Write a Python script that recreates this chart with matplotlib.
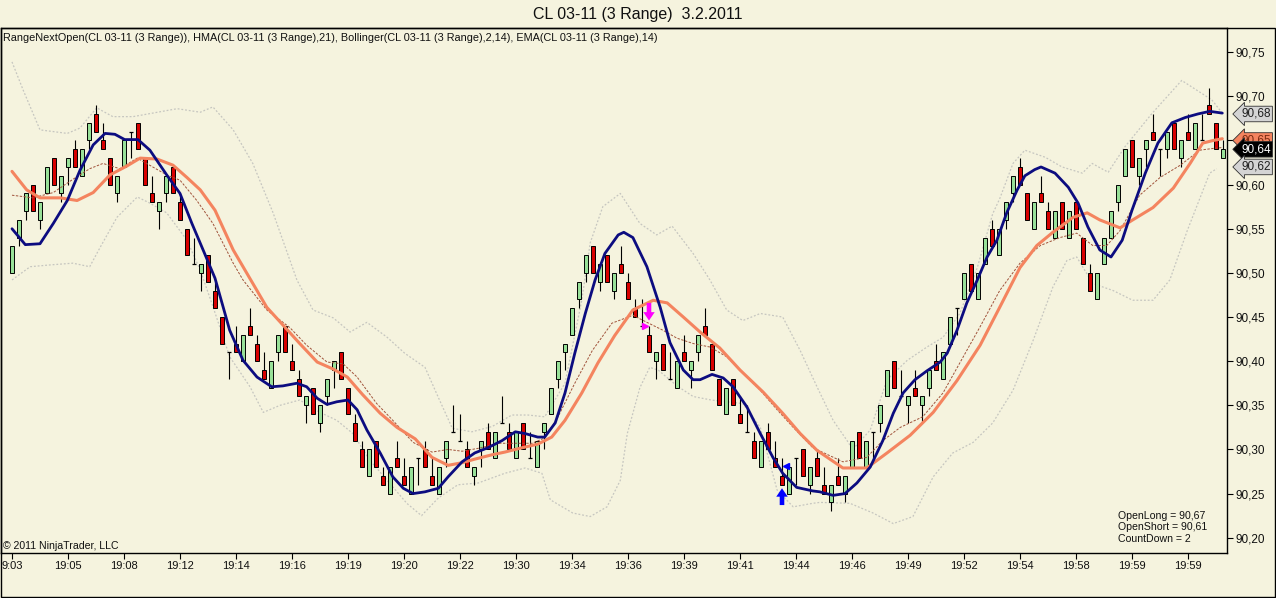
import numpy as np
import matplotlib.pyplot as plt
from matplotlib.patches import Rectangle

# ---- range bars (CL 03-11, 3 range) ----
opens = [
    90.50, 90.54, 90.57, 90.60, 90.56, 90.59, 90.63, 90.59, 90.62, 90.64,
    90.61, 90.65, 90.68, 90.65, 90.63, 90.59, 90.62, 90.66, 90.67, 90.63,
    90.59, 90.57, 90.59, 90.62, 90.58, 90.55, 90.51, 90.50, 90.52, 90.48,
    90.45, 90.41, 90.42, 90.40, 90.44, 90.42, 90.39, 90.37, 90.41, 90.44,
    90.40, 90.38, 90.35, 90.37, 90.33, 90.36, 90.39, 90.41, 90.37, 90.33,
    90.30, 90.27, 90.31, 90.27, 90.25, 90.29, 90.27, 90.25, 90.29, 90.30,
    90.27, 90.25, 90.29, 90.32, 90.31, 90.30, 90.27, 90.30, 90.32, 90.29,
    90.33, 90.32, 90.29, 90.33, 90.29, 90.28, 90.32, 90.34, 90.38, 90.41,
    90.43, 90.47, 90.50, 90.53, 90.49, 90.52, 90.48, 90.51, 90.49, 90.46,
    90.44, 90.43, 90.40, 90.42, 90.38, 90.37, 90.41, 90.39, 90.41, 90.44,
    90.42, 90.38, 90.34, 90.38, 90.34, 90.32, 90.31, 90.28, 90.32, 90.29,
    90.27, 90.25, 90.29, 90.30, 90.26, 90.29, 90.26, 90.24, 90.27, 90.25,
    90.28, 90.32, 90.28, 90.32, 90.33, 90.36, 90.40, 90.36, 90.35, 90.37,
    90.35, 90.37, 90.40, 90.38, 90.42, 90.46, 90.47, 90.51, 90.47, 90.51,
    90.55, 90.52, 90.56, 90.59, 90.62, 90.59, 90.55, 90.59, 90.57, 90.54,
    90.58, 90.54, 90.58, 90.54, 90.50, 90.47, 90.51, 90.54, 90.58, 90.61,
    90.65, 90.61, 90.64, 90.66, 90.64, 90.64, 90.67, 90.63, 90.66, 90.64,
    90.65, 90.69, 90.67, 90.63]
highs = [
    90.53, 90.56, 90.59, 90.60, 90.58, 90.62, 90.63, 90.61, 90.63, 90.65,
    90.64, 90.67, 90.69, 90.67, 90.63, 90.61, 90.65, 90.66, 90.67, 90.63,
    90.61, 90.58, 90.61, 90.62, 90.59, 90.55, 90.54, 90.51, 90.52, 90.49,
    90.45, 90.41, 90.44, 90.43, 90.46, 90.43, 90.41, 90.40, 90.43, 90.44,
    90.42, 90.39, 90.36, 90.37, 90.35, 90.38, 90.40, 90.41, 90.37, 90.34,
    90.31, 90.30, 90.31, 90.28, 90.28, 90.31, 90.29, 90.28, 90.29, 90.31,
    90.29, 90.28, 90.31, 90.35, 90.34, 90.31, 90.28, 90.31, 90.33, 90.32,
    90.36, 90.33, 90.32, 90.33, 90.32, 90.31, 90.33, 90.37, 90.40, 90.42,
    90.46, 90.49, 90.52, 90.53, 90.51, 90.52, 90.50, 90.53, 90.50, 90.47,
    90.47, 90.44, 90.41, 90.42, 90.41, 90.40, 90.43, 90.40, 90.43, 90.46,
    90.42, 90.38, 90.37, 90.38, 90.36, 90.35, 90.32, 90.31, 90.33, 90.31,
    90.29, 90.28, 90.29, 90.30, 90.28, 90.30, 90.28, 90.26, 90.29, 90.27,
    90.31, 90.32, 90.31, 90.32, 90.35, 90.39, 90.40, 90.39, 90.36, 90.39,
    90.36, 90.39, 90.42, 90.41, 90.45, 90.46, 90.50, 90.51, 90.50, 90.54,
    90.56, 90.55, 90.58, 90.61, 90.63, 90.59, 90.58, 90.61, 90.58, 90.57,
    90.58, 90.57, 90.58, 90.54, 90.51, 90.50, 90.54, 90.57, 90.60, 90.64,
    90.65, 90.63, 90.65, 90.68, 90.64, 90.66, 90.67, 90.65, 90.68, 90.67,
    90.68, 90.71, 90.67, 90.65]
lows = [
    90.50, 90.53, 90.56, 90.57, 90.55, 90.59, 90.60, 90.58, 90.60, 90.62,
    90.61, 90.64, 90.66, 90.64, 90.60, 90.58, 90.62, 90.63, 90.64, 90.60,
    90.58, 90.55, 90.58, 90.59, 90.56, 90.52, 90.51, 90.48, 90.49, 90.46,
    90.42, 90.38, 90.41, 90.40, 90.43, 90.40, 90.38, 90.37, 90.40, 90.41,
    90.39, 90.36, 90.33, 90.34, 90.32, 90.35, 90.37, 90.38, 90.34, 90.31,
    90.28, 90.27, 90.28, 90.26, 90.25, 90.28, 90.26, 90.25, 90.26, 90.28,
    90.26, 90.25, 90.28, 90.32, 90.31, 90.28, 90.26, 90.28, 90.30, 90.29,
    90.33, 90.30, 90.29, 90.30, 90.29, 90.28, 90.30, 90.34, 90.37, 90.39,
    90.43, 90.46, 90.49, 90.50, 90.48, 90.49, 90.47, 90.50, 90.47, 90.45,
    90.44, 90.41, 90.38, 90.39, 90.38, 90.37, 90.40, 90.37, 90.40, 90.43,
    90.39, 90.35, 90.34, 90.35, 90.33, 90.32, 90.29, 90.28, 90.30, 90.28,
    90.26, 90.25, 90.26, 90.27, 90.25, 90.27, 90.25, 90.23, 90.26, 90.24,
    90.28, 90.29, 90.28, 90.29, 90.32, 90.36, 90.37, 90.36, 90.33, 90.36,
    90.33, 90.36, 90.39, 90.38, 90.42, 90.43, 90.47, 90.48, 90.47, 90.51,
    90.53, 90.52, 90.55, 90.58, 90.60, 90.56, 90.55, 90.58, 90.55, 90.54,
    90.55, 90.54, 90.55, 90.51, 90.48, 90.47, 90.51, 90.54, 90.57, 90.61,
    90.62, 90.60, 90.62, 90.65, 90.61, 90.63, 90.64, 90.62, 90.65, 90.64,
    90.65, 90.68, 90.64, 90.63]
closes = [
    90.53, 90.56, 90.59, 90.57, 90.58, 90.62, 90.60, 90.61, 90.63, 90.62,
    90.64, 90.67, 90.66, 90.64, 90.60, 90.61, 90.65, 90.66, 90.64, 90.60,
    90.58, 90.58, 90.61, 90.59, 90.56, 90.52, 90.51, 90.51, 90.49, 90.46,
    90.42, 90.41, 90.41, 90.43, 90.43, 90.40, 90.38, 90.40, 90.43, 90.41,
    90.39, 90.36, 90.36, 90.34, 90.35, 90.38, 90.40, 90.38, 90.34, 90.31,
    90.28, 90.30, 90.28, 90.26, 90.28, 90.28, 90.26, 90.28, 90.29, 90.28,
    90.26, 90.28, 90.31, 90.32, 90.31, 90.28, 90.28, 90.31, 90.30, 90.32,
    90.33, 90.30, 90.32, 90.30, 90.29, 90.31, 90.33, 90.37, 90.40, 90.42,
    90.46, 90.49, 90.52, 90.50, 90.51, 90.49, 90.50, 90.50, 90.47, 90.45,
    90.44, 90.41, 90.41, 90.39, 90.38, 90.40, 90.40, 90.40, 90.43, 90.43,
    90.39, 90.35, 90.37, 90.35, 90.33, 90.32, 90.29, 90.31, 90.30, 90.28,
    90.26, 90.28, 90.29, 90.27, 90.28, 90.27, 90.25, 90.26, 90.26, 90.27,
    90.31, 90.29, 90.31, 90.32, 90.35, 90.39, 90.37, 90.36, 90.36, 90.36,
    90.36, 90.39, 90.39, 90.41, 90.45, 90.46, 90.50, 90.48, 90.50, 90.54,
    90.53, 90.55, 90.58, 90.61, 90.60, 90.56, 90.58, 90.58, 90.55, 90.57,
    90.55, 90.57, 90.55, 90.51, 90.48, 90.50, 90.54, 90.57, 90.60, 90.64,
    90.62, 90.63, 90.65, 90.65, 90.64, 90.66, 90.64, 90.65, 90.65, 90.67,
    90.65, 90.68, 90.64, 90.64]

# x axis labels, one every 8 bars
time_labels = ['9:03', '19:05', '19:08', '19:12', '19:14', '19:16', '19:19', '19:20',
               '19:22', '19:30', '19:34', '19:36', '19:39', '19:41', '19:44', '19:46',
               '19:49', '19:52', '19:54', '19:58', '19:59', '19:59']

# ---- indicator lines (bar position, price) ----
hma_pos = [0, 1.9, 4, 5.9, 7.9, 9.7, 11.6, 13.3, 14.7, 16.1, 18, 19.7, 22.1, 24, 25.7,
           27.3, 29, 31.1, 33, 35, 37.1, 38.7, 40.7, 42.1, 43.6, 45, 46.4, 48, 49.3,
           50.7, 52.6, 54.4, 55.9, 57.3, 59, 60.9, 62.3, 64.3, 66.1, 68, 70, 71.9,
           73.3, 75.1, 76.1, 77.6, 79, 80.4, 81.9, 83.3, 84.7, 86.6, 87.4, 88.7, 90.7,
           92.6, 94, 95.9, 97.3, 98.3, 100, 101.6, 103, 105, 106.9, 108.7, 110.1,
           112.1, 114.4, 115.4, 117.3, 119, 120.7, 122.6, 124.4, 125.9, 127.3, 129,
           130.7, 132.6, 133.6, 135, 136.4, 137.9, 139.3, 140.7, 142.1, 143.6, 144.7,
           146.1, 147, 149, 150.9, 152.3, 153.7, 155.4, 157, 158.6, 160, 161.9, 163.7,
           165.7, 167.6, 169.4, 171.1, 172.9]
hma_val = [90.550, 90.532, 90.533, 90.556, 90.582, 90.616, 90.645, 90.658, 90.657,
           90.651, 90.651, 90.639, 90.611, 90.590, 90.556, 90.526, 90.494, 90.435,
           90.401, 90.382, 90.371, 90.372, 90.375, 90.371, 90.358, 90.351, 90.354,
           90.356, 90.345, 90.322, 90.296, 90.269, 90.256, 90.250, 90.252, 90.256,
           90.269, 90.286, 90.296, 90.302, 90.310, 90.320, 90.318, 90.314, 90.314,
           90.330, 90.364, 90.409, 90.454, 90.492, 90.522, 90.543, 90.546, 90.540,
           90.507, 90.461, 90.421, 90.390, 90.379, 90.379, 90.385, 90.381, 90.371,
           90.348, 90.318, 90.291, 90.273, 90.257, 90.253, 90.252, 90.248, 90.250,
           90.262, 90.280, 90.310, 90.341, 90.364, 90.379, 90.389, 90.399, 90.409,
           90.435, 90.466, 90.492, 90.518, 90.537, 90.568, 90.594, 90.610, 90.617,
           90.620, 90.613, 90.597, 90.579, 90.552, 90.526, 90.518, 90.537, 90.571,
           90.613, 90.647, 90.670, 90.676, 90.680, 90.683, 90.681]

ema_pos = [0, 2.1, 4, 6.9, 9.3, 11.6, 14, 16.4, 18.3, 20.7, 23, 25, 26.9, 29, 31.6,
           36.4, 38.7, 41.1, 43.6, 45.9, 47.9, 50.1, 52.6, 55, 57.6, 60, 62.3, 64.3,
           66.1, 68.6, 70.4, 72.9, 75.1, 77.1, 79, 81.4, 83.7, 86.1, 88.7, 91.6, 93.6,
           95.9, 98.3, 101.1, 104, 107.3, 110.1, 112.6, 115, 118.7, 122.1, 125, 128.3,
           131.6, 135, 138.3, 141.1, 144, 146.4, 148.7, 151.6, 153.6, 155.4, 158.3,
           160.1, 163, 165.9, 168.3, 170.1, 171.6, 172.9]
ema_val = [90.615, 90.594, 90.585, 90.585, 90.582, 90.591, 90.611, 90.621, 90.630,
           90.629, 90.622, 90.608, 90.594, 90.571, 90.526, 90.461, 90.441, 90.420,
           90.399, 90.391, 90.382, 90.362, 90.341, 90.325, 90.312, 90.291, 90.282,
           90.285, 90.289, 90.294, 90.297, 90.302, 90.306, 90.314, 90.333, 90.364,
           90.398, 90.429, 90.458, 90.469, 90.466, 90.450, 90.433, 90.415, 90.390,
           90.365, 90.341, 90.318, 90.299, 90.279, 90.279, 90.296, 90.316, 90.342,
           90.378, 90.418, 90.461, 90.506, 90.531, 90.546, 90.563, 90.568, 90.560,
           90.551, 90.560, 90.574, 90.596, 90.624, 90.647, 90.650, 90.652]

bb_mid_pos = [0, 3, 5.9, 8.7, 11.1, 13, 15.4, 17.9, 20.1, 22.1, 24, 26.4, 28.7, 31.6,
              33, 36.4, 39.7, 42.1, 45, 47.3, 49.3, 52.1, 54.4, 57.3, 60, 62.3, 64.3,
              67.1, 69.4, 71.9, 74.3, 76.1, 78, 80.4, 82.9, 85.7, 88.7, 90.7, 93, 95,
              97.3, 99.7, 102.1, 104.4, 106.9, 109.3, 111.6, 114.4, 118.7, 122.1, 124.4,
              126.9, 130.1, 133, 135.4, 138.3, 141.1, 144, 146.9, 149.7, 152.1, 154.4,
              156.4, 158.3, 161.1, 164, 166.9, 169.7, 171.6, 172.9]
bb_mid_val = [90.588, 90.585, 90.591, 90.606, 90.618, 90.624, 90.618, 90.630, 90.620,
              90.611, 90.605, 90.582, 90.556, 90.511, 90.492, 90.458, 90.438, 90.418,
              90.399, 90.397, 90.382, 90.352, 90.333, 90.308, 90.297, 90.300, 90.298,
              90.302, 90.307, 90.307, 90.307, 90.313, 90.337, 90.375, 90.412, 90.443,
              90.452, 90.444, 90.435, 90.426, 90.420, 90.416, 90.405, 90.387, 90.367,
              90.345, 90.325, 90.302, 90.286, 90.291, 90.310, 90.325, 90.337, 90.364,
              90.398, 90.439, 90.480, 90.511, 90.531, 90.540, 90.545, 90.531, 90.531,
              90.548, 90.588, 90.608, 90.622, 90.639, 90.641, 90.642]

bb_up_pos = [0, 1.6, 4, 7.9, 9.7, 12.1, 14.4, 17.3, 20.1, 23.6, 26.9, 28.7, 31.6, 34.4,
             37.3, 40.7, 43, 45.9, 48.3, 50.7, 53.6, 56.1, 59, 60.9, 62.9, 65.7, 68.6,
             71.4, 73.7, 76.1, 79, 81.4, 82.6, 84.4, 86.9, 89.7, 92.1, 94.3, 97.3, 99.7,
             102.1, 104.4, 106.9, 110.1, 112.6, 115, 117.3, 119.3, 120.1, 122.6, 125,
             127.9, 130.7, 133, 135.4, 137.9, 140.1, 141.1, 143, 144.7, 147.6, 150, 152.9,
             154.3, 156.6, 159, 162.9, 167.1, 171.4, 172.9]
bb_up_val = [90.739, 90.707, 90.662, 90.658, 90.664, 90.687, 90.677, 90.677, 90.681,
             90.686, 90.682, 90.688, 90.662, 90.624, 90.568, 90.492, 90.458, 90.449,
             90.433, 90.444, 90.427, 90.409, 90.393, 90.359, 90.324, 90.320, 90.326,
             90.339, 90.339, 90.337, 90.375, 90.469, 90.534, 90.575, 90.590, 90.556,
             90.543, 90.553, 90.522, 90.492, 90.458, 90.446, 90.454, 90.450, 90.412,
             90.371, 90.333, 90.310, 90.300, 90.322, 90.379, 90.401, 90.416, 90.427,
             90.454, 90.506, 90.567, 90.584, 90.624, 90.639, 90.631, 90.620, 90.613,
             90.624, 90.614, 90.643, 90.681, 90.718, 90.696, 90.681]

bb_lo_pos = [0, 2.6, 5.4, 8.7, 11.1, 12.6, 15, 17.9, 19.7, 22.1, 25, 26.9, 28.7, 31.1,
             34, 35.9, 38.3, 41.1, 44, 46.4, 48.7, 51.1, 53.6, 56.4, 58.5, 60.9, 63.7,
             66.6, 70.4, 73.3, 75.7, 76.9, 80.1, 82.6, 85, 86.9, 87.9, 89.7, 91.1, 92.3,
             95, 97.3, 99.9, 102.1, 104.4, 106.9, 109.3, 111.6, 114.4, 115.4, 119.7, 123,
             125.9, 128.7, 131.6, 134.4, 137.3, 140.1, 143, 145.9, 148.7, 150.7, 152.1,
             154.4, 157.3, 160.1, 163, 165.4, 167.9, 171.1, 172.1]
bb_lo_val = [90.492, 90.507, 90.509, 90.511, 90.507, 90.529, 90.563, 90.586, 90.579,
             90.568, 90.537, 90.503, 90.462, 90.405, 90.371, 90.342, 90.350, 90.356,
             90.342, 90.333, 90.318, 90.288, 90.265, 90.239, 90.225, 90.245, 90.260,
             90.262, 90.273, 90.279, 90.273, 90.243, 90.228, 90.224, 90.235, 90.265,
             90.318, 90.370, 90.393, 90.390, 90.372, 90.360, 90.356, 90.354, 90.352,
             90.325, 90.254, 90.235, 90.239, 90.240, 90.239, 90.228, 90.216, 90.224,
             90.269, 90.296, 90.308, 90.330, 90.367, 90.424, 90.484, 90.514, 90.518,
             90.488, 90.480, 90.469, 90.469, 90.492, 90.548, 90.613, 90.618]

# entry signals: bar position, arrow tail, arrow head
short_sig = (91, 90.466, 90.446)
long_sig = (110, 90.237, 90.256)

# price markers on the right axis
tag_vals = [90.68, 90.65, 90.64, 90.62]
tag_face = ['#d4d4d4', '#f4845f', 'black', '#d4d4d4']
tag_text = ['#202020', '#7a2a10', 'white', '#202020']

info_lines = ['OpenLong = 90,67', 'OpenShort = 90,61', 'CountDown = 2']

# ---- figure ----
bg = '#f5f3de'
W, H = 1276, 598
fig = plt.figure(figsize=(W / 100, H / 100), dpi=100, facecolor=bg)
plt.rcParams['font.family'] = ['Liberation Sans', 'DejaVu Sans']

ax = fig.add_axes([1 / W, 1 - 553 / H, 1226 / W, 525 / H], facecolor=bg)
ax.set_xlim(-1.571, 173.571)
ax.set_ylim(90.1827, 90.7774)

o = np.array(opens); h = np.array(highs); l = np.array(lows); c = np.array(closes)
x = np.arange(len(o))

# bands and lines
ax.plot(bb_up_pos, bb_up_val, color='#c6c6c0', lw=0.9, ls=(0, (1.5, 1.5)), zorder=1)
ax.plot(bb_lo_pos, bb_lo_val, color='#c6c6c0', lw=0.9, ls=(0, (1.5, 1.5)), zorder=1)
ax.plot(bb_mid_pos, bb_mid_val, color='#a0523a', lw=0.7, ls=(0, (2.5, 1.5)), zorder=4)

# candles
ax.vlines(x, l, h, color='black', lw=0.8, zorder=2)
up = c > o
dn = c < o
eq = c == o
bw = 0.7
ax.bar(x[up], (c - o)[up], bottom=o[up], width=bw, color='#98e098',
       edgecolor='black', linewidth=0.7, zorder=3)
ax.bar(x[dn], (o - c)[dn], bottom=c[dn], width=bw, color='#d80000',
       edgecolor='black', linewidth=0.7, zorder=3)
ax.hlines(c[eq], x[eq] - bw / 2, x[eq] + bw / 2, color='black', lw=0.9, zorder=3)

ax.plot(ema_pos, ema_val, color='#f4845f', lw=2.2, zorder=5, solid_capstyle='round')
ax.plot(hma_pos, hma_val, color='#0c0c80', lw=2.0, zorder=6, solid_capstyle='round')

# signal arrows
arrow_style = 'simple,head_width=0.75,head_length=0.55,tail_width=0.3'
ax.annotate('', xy=(short_sig[0], short_sig[2]), xytext=(short_sig[0], short_sig[1]),
            arrowprops=dict(arrowstyle=arrow_style, color='#ff00ff', lw=0,
                            shrinkA=0, shrinkB=0, mutation_scale=11), zorder=7)
ax.plot(short_sig[0] - 0.6, short_sig[2] - 0.006, marker='>', color='#ff00ff',
        ms=4.5, zorder=7)
ax.annotate('', xy=(long_sig[0], long_sig[2]), xytext=(long_sig[0], long_sig[1]),
            arrowprops=dict(arrowstyle=arrow_style, color='#0000ff', lw=0,
                            shrinkA=0, shrinkB=0, mutation_scale=11), zorder=7)
ax.plot(long_sig[0] + 0.5, long_sig[2] + 0.025, marker='<', color='#0000ff',
        ms=4.5, zorder=7)

# axes styling
for s in ax.spines.values():
    s.set_color('black')
    s.set_linewidth(1.0)
ax.yaxis.tick_right()
yt = np.round(np.arange(90.20, 90.751, 0.05), 2)
ax.set_yticks(yt)
ax.set_yticklabels([f'{v:.2f}'.replace('.', ',') for v in yt], fontsize=8.5)
ax.set_xticks(np.arange(0, len(o), 8))
ax.set_xticklabels(time_labels, fontsize=8)
ax.tick_params(axis='both', direction='out', length=4, width=0.8, color='black',
               pad=2, labelcolor='#101010')

# price tags at the right edge
tr = ax.get_yaxis_transform()
for v, fc, tc in zip(tag_vals, tag_face, tag_text):
    ax.text(1.0115, v, f'{v:.2f}'.replace('.', ','), transform=tr, fontsize=8.5,
            color=tc, ha='left', va='center', zorder=10, clip_on=False,
            bbox=dict(boxstyle='larrow,pad=0.15', fc=fc, ec='#303030', lw=0.6))

# texts
fig.text(638 / W, 1 - 14 / H, 'CL 03-11 (3 Range)  3.2.2011', ha='center', va='center',
         fontsize=11.5, color='#101010')
ax.text(2 / 1226, 1 - 10 / 525,
        'RangeNextOpen(CL 03-11 (3 Range)), HMA(CL 03-11 (3 Range),21), '
        'Bollinger(CL 03-11 (3 Range),2,14), EMA(CL 03-11 (3 Range),14)',
        transform=ax.transAxes, ha='left', va='center', fontsize=7.8, color='#101010')
ax.text(2 / 1226, 7 / 525, '\u00a9 2011 NinjaTrader, LLC', transform=ax.transAxes,
        ha='left', va='center', fontsize=7.6, color='#101010')
ax.text(1117 / 1226, 9 / 525, '\n'.join(info_lines), transform=ax.transAxes,
        ha='left', va='bottom', fontsize=7.6, color='#101010', linespacing=1.2)

# outer frame around chart panel
fig.add_artist(Rectangle((0.5 / W, 1 / H), (W - 1.5) / W, (H - 29) / H,
                         transform=fig.transFigure, fill=False, ec='black', lw=1.0))

fig.savefig('out.png', dpi=100, facecolor=bg)
